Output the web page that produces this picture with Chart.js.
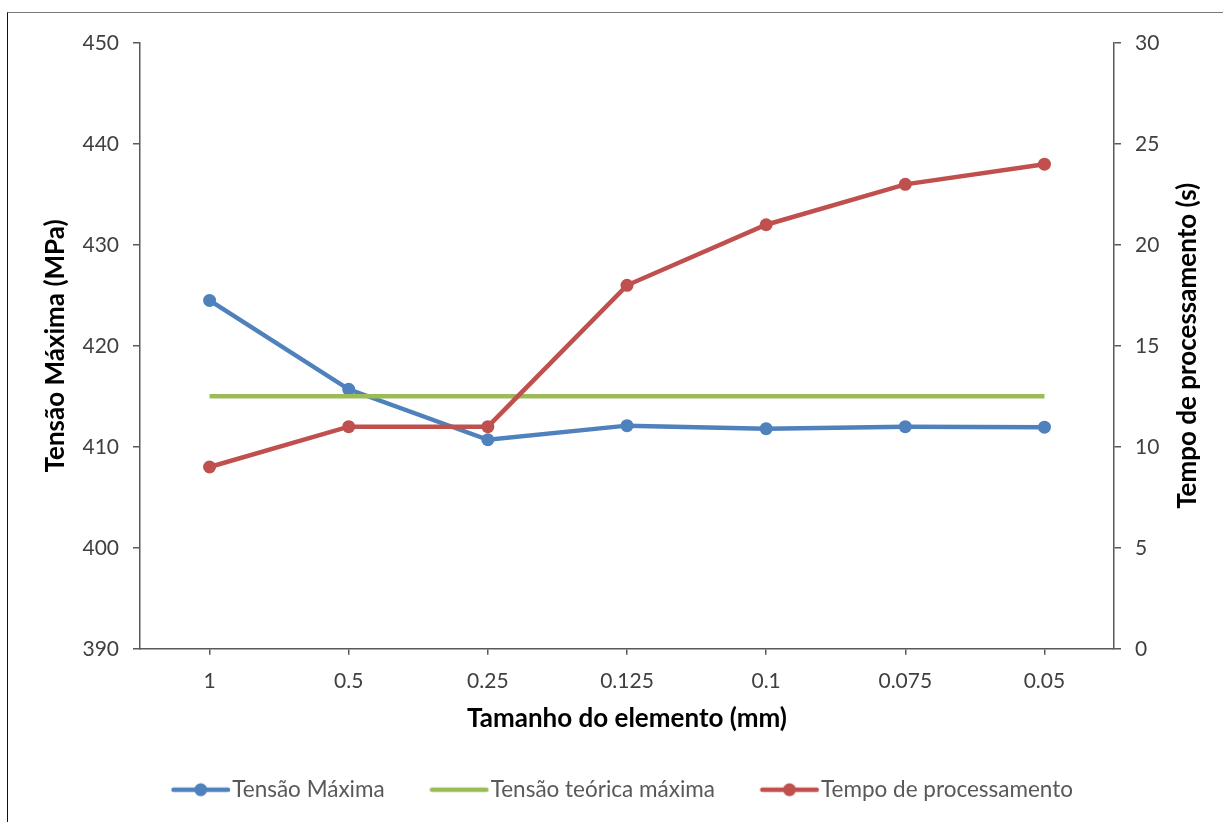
<!DOCTYPE html>
<html>
<head>
<meta charset="utf-8">
<script src="https://cdn.jsdelivr.net/npm/chart.js@4.4.1/dist/chart.umd.min.js"></script>
<style>
  html, body { margin: 0; padding: 0; background: #fff; }
  #wrap { position: relative; width: 1223px; height: 822px; overflow: hidden; }
  #frame { position: absolute; left: 7px; top: 12px; width: 1230px; height: 830px;
           border-left: 1.5px solid #111; border-top: 1.5px solid #7a7a7a; }
  #c { position: absolute; left: 0; top: 0; }
</style>
</head>
<body>
<div id="wrap">
  <div id="frame"></div>
  <canvas id="c" width="1223" height="822"></canvas>
</div>
<script>
// Element size (mm) on the category axis
const tamanhos = ['1', '0.5', '0.25', '0.125', '0.1', '0.075', '0.05'];
// Maximum stress from the simulation (MPa)
const tensaoMaxima = [424.5, 415.7, 410.7, 412.1, 411.8, 412.0, 411.95];
// Theoretical maximum stress (MPa)
const tensaoTeorica = [415, 415, 415, 415, 415, 415, 415];
// Processing time (s)
const tempoProcessamento = [9, 11, 11, 18, 21, 23, 24];
// Axis ranges
const eixoTensao = { min: 390, max: 450, step: 10 };
const eixoTempo = { min: 0, max: 30, step: 5 };

const AZUL = '#4F81BD', VERDE = '#9BBB59', VERMELHO = '#C0504D';
const FONTE = 'Lato, "Open Sans", sans-serif';
const EIXO = '#595959';
const TITULO_FONTE = { family: FONTE, size: 26, weight: 'bold' };
const TICK_FONTE = { family: FONTE, size: 21 };

// Legend swatch: a short line with an optional circle marker.
// The image is wider than the line; the transparent left part makes the gap between items.
function amostra(cor, comMarcador) {
  const c = document.createElement('canvas');
  c.width = 160; c.height = 16;
  const g = c.getContext('2d');
  const x0 = 72.5, x1 = 127;
  g.strokeStyle = cor; g.lineWidth = 4.5; g.lineCap = 'round';
  g.beginPath(); g.moveTo(x0, 8); g.lineTo(x1, 8); g.stroke();
  if (comMarcador) {
    g.fillStyle = cor;
    g.beginPath(); g.arc((x0 + x1) / 2, 8, 6.5, 0, Math.PI * 2); g.fill();
  }
  return c;
}
const amostras = [amostra(AZUL, true), amostra(VERDE, false), amostra(VERMELHO, true)];

// Right-axis title, read from bottom to top
const tituloDireito = {
  id: 'tituloDireito',
  afterDraw(chart) {
    const { ctx, chartArea } = chart;
    ctx.save();
    ctx.translate(chartArea.right + 74, (chartArea.top + chartArea.bottom) / 2);
    ctx.rotate(-Math.PI / 2);
    ctx.font = `bold ${TITULO_FONTE.size}px ${FONTE}`;
    ctx.fillStyle = '#000';
    ctx.textAlign = 'center';
    ctx.textBaseline = 'middle';
    ctx.fillText('Tempo de processamento (s)', 0, 0);
    ctx.restore();
  }
};

const eixoComum = {
  border: { display: true, color: EIXO, width: 1.5 },
  grid: { display: true, drawOnChartArea: false, drawTicks: true, tickLength: 7, color: EIXO, lineWidth: 1.5 },
};

new Chart(document.getElementById('c'), {
  type: 'line',
  data: {
    labels: tamanhos,
    datasets: [
      {
        label: 'Tensão Máxima', data: tensaoMaxima, yAxisID: 'y',
        borderColor: AZUL, backgroundColor: AZUL, borderWidth: 4.5,
        pointRadius: 6.5, pointHoverRadius: 6.5, pointBorderWidth: 0, order: 3, tension: 0
      },
      {
        label: 'Tensão teórica máxima', data: tensaoTeorica, yAxisID: 'y',
        borderColor: VERDE, backgroundColor: VERDE, borderWidth: 4.5,
        pointRadius: 0, pointHoverRadius: 0, order: 2, tension: 0
      },
      {
        label: 'Tempo de processamento', data: tempoProcessamento, yAxisID: 'y1',
        borderColor: VERMELHO, backgroundColor: VERMELHO, borderWidth: 4.5,
        pointRadius: 6.5, pointHoverRadius: 6.5, pointBorderWidth: 0, order: 1, tension: 0
      }
    ]
  },
  options: {
    responsive: false,
    animation: false,
    layout: { padding: { left: 25, right: 34, top: 43, bottom: 11 } },
    plugins: {
      tooltip: { enabled: false },
      legend: {
        position: 'bottom',
        labels: {
          usePointStyle: true,
          pointStyleWidth: 80,
          padding: 14.75,
          color: '#595959',
          font: { family: FONTE, size: 22.5 },
          sort: (a, b) => a.datasetIndex - b.datasetIndex,
          generateLabels(chart) {
            const itens = Chart.defaults.plugins.legend.labels.generateLabels(chart);
            itens.forEach((it) => { it.pointStyle = amostras[it.datasetIndex]; });
            return itens;
          }
        }
      }
    },
    scales: {
      x: {
        ...eixoComum,
        offset: true,
        grid: { ...eixoComum.grid, offset: false, tickLength: 6 },
        ticks: { color: '#404040', font: TICK_FONTE, padding: 14 },
        title: { display: true, text: 'Tamanho do elemento (mm)', color: '#000',
                 font: TITULO_FONTE, padding: { top: 0, bottom: 29.5 } },
        afterFit(s) { s.height = 115; }
      },
      y: {
        ...eixoComum,
        position: 'left',
        min: eixoTensao.min, max: eixoTensao.max,
        ticks: { stepSize: eixoTensao.step, color: '#404040', font: TICK_FONTE, padding: 14 },
        title: { display: true, text: 'Tensão Máxima (MPa)', color: '#000',
                 font: TITULO_FONTE, padding: { top: 15.5, bottom: 0 } },
        afterFit(s) { s.width = 115; }
      },
      y1: {
        ...eixoComum,
        position: 'right',
        min: eixoTempo.min, max: eixoTempo.max,
        ticks: { stepSize: eixoTempo.step, color: '#404040', font: TICK_FONTE, padding: 14 },
        title: { display: false },
        afterFit(s) { s.width = 75; }
      }
    }
  },
  plugins: [tituloDireito]
});
</script>
</body>
</html>
